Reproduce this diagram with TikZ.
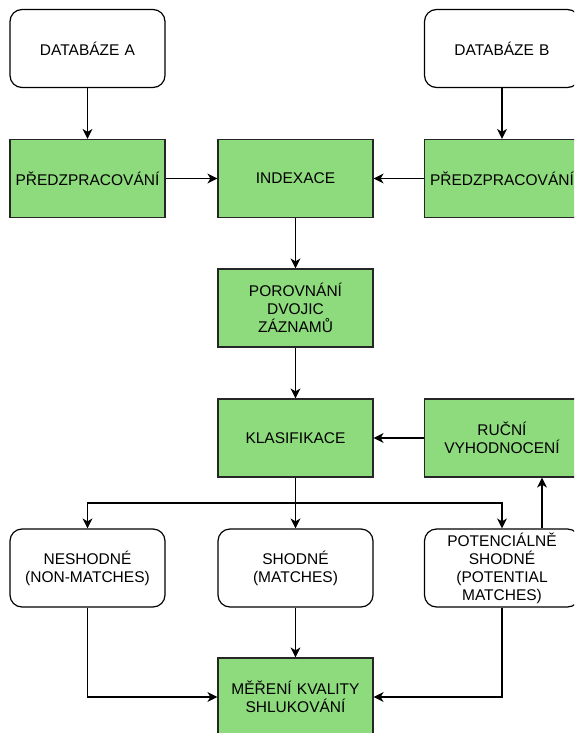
\documentclass[tikz,border=0pt]{standalone}
\usepackage{fontspec}
\setmainfont{Liberation Sans}
\usetikzlibrary{arrows.meta}
\definecolor{krokzelena}{RGB}{141,219,124}

\begin{document}
\begin{tikzpicture}[x=1pt, y=-1pt,
		box/.style={draw, line width=1.2pt, minimum width=155pt, minimum height=78pt,
			text width=150pt, align=center, inner sep=1pt,
			font=\fontsize{15.5}{18}\selectfont},
		zdroj/.style={box, rounded corners=12pt, fill=white},
		krok/.style={box, fill=krokzelena, draw=black!85},
		sipka/.style={line width=1.2pt, -{Stealth[length=10pt, width=10pt, inset=3pt]}}]
	\useasboundingbox (0,0) rectangle (574,733);
	\clip (0,0) rectangle (574,733);
	% horni rada
	\node[zdroj] (dbA) at (87.5,48.5) {DATABÁZE A};
	\node[zdroj] (dbB) at (502,48.5) {DATABÁZE B};
	\node[krok] (preA) at (87.5,178.5) {PŘEDZPRACOVÁNÍ};
	\node[krok] (idx) at (295.5,178.5) {INDEXACE};
	\node[krok] (preB) at (502,178.5) {PŘEDZPRACOVÁNÍ};
	% stred
	\node[krok] (por) at (295.5,308) {POROVNÁNÍ\\DVOJIC\\ZÁZNAMŮ};
	\node[krok] (kla) at (295.5,438) {KLASIFIKACE};
	\node[krok] (ruc) at (502,438) {RUČNÍ\\VYHODNOCENÍ};
	% vysledky
	\node[zdroj] (non) at (87.5,568) {NESHODNÉ\\(NON-MATCHES)};
	\node[zdroj] (sho) at (295.5,568) {SHODNÉ\\(MATCHES)};
	\node[zdroj] (pot) at (502,568) {POTENCIÁLNĚ\\SHODNÉ\\(POTENTIAL\\MATCHES)};
	\node[krok] (mer) at (295.5,697) {MĚŘENÍ KVALITY\\SHLUKOVÁNÍ};
	\coordinate (rozcesti) at (295.5,503);

	\draw[sipka] (dbA) -- (preA);
	\draw[sipka] (dbB) -- (preB);
	\draw[sipka] (preA) -- (idx);
	\draw[sipka] (preB) -- (idx);
	\draw[sipka] (idx) -- (por);
	\draw[sipka] (por) -- (kla);
	\draw[sipka] (ruc) -- (kla);
	\draw[sipka] (kla) -- (sho);
	\draw[sipka] (rozcesti) -| (non);
	\draw[sipka] (rozcesti) -| (pot);
	\draw[sipka] ([xshift=40pt]pot.north) -- ([xshift=40pt]ruc.south);
	\draw[sipka] (sho) -- (mer);
	\draw[sipka] (non) |- (mer);
	\draw[sipka] (pot) |- (mer);
\end{tikzpicture}
\end{document}
